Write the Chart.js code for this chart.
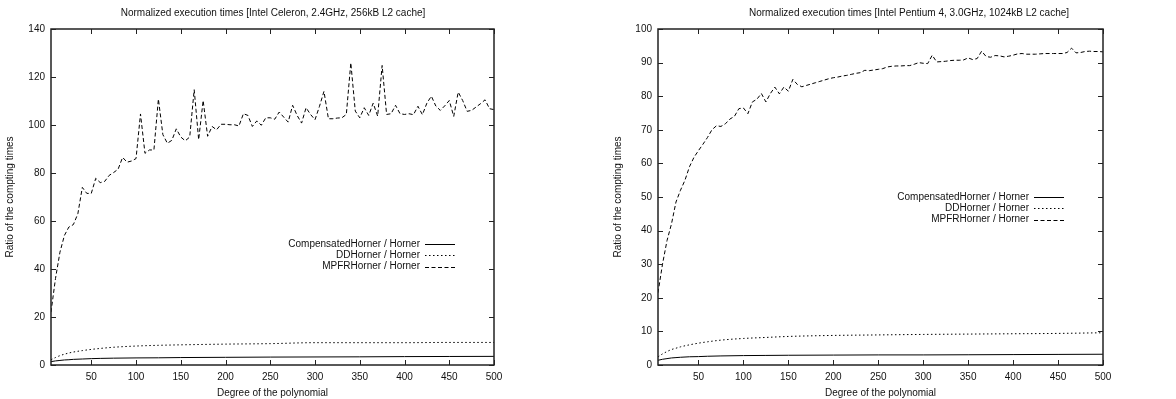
<!DOCTYPE html>
<html>
<head>
<meta charset="utf-8">
<script src="https://cdn.jsdelivr.net/npm/chart.js@4.4.1/dist/chart.umd.min.js"></script>
<style>
  html, body { margin: 0; padding: 0; background: #fff; }
  .panel { position: absolute; top: 0; width: 588px; height: 399px; }
</style>
</head>
<body>
<div class="panel" style="left:0"><canvas id="celeronChart" width="588" height="399"></canvas></div>
<div class="panel" style="left:588px"><canvas id="pentiumChart" width="588" height="399"></canvas></div>
<script>
// --- Data ---
const degrees = [5, 10, 15, 20, 25, 30, 35, 40, 45, 50, 55, 60, 65, 70, 75, 80, 85, 90, 95, 100,
  105, 110, 115, 120, 125, 130, 135, 140, 145, 150, 155, 160, 165, 170, 175, 180, 185, 190, 195, 200,
  205, 210, 215, 220, 225, 230, 235, 240, 245, 250, 255, 260, 265, 270, 275, 280, 285, 290, 295, 300,
  305, 310, 315, 320, 325, 330, 335, 340, 345, 350, 355, 360, 365, 370, 375, 380, 385, 390, 395, 400,
  405, 410, 415, 420, 425, 430, 435, 440, 445, 450, 455, 460, 465, 470, 475, 480, 485, 490, 495, 500];

const smoothDegrees = [5, 10, 15, 20, 25, 30, 40, 50, 60, 75, 100, 125, 150, 200, 250, 300, 350, 400, 450, 500];

// Intel Celeron 2.4GHz
const celeronMpfr = [22, 36, 47, 54, 57.5, 58.5, 63, 74, 71.5, 71.5, 77.8, 76, 76.5, 79, 80.2, 81.6, 86.5, 84.5, 85, 86,
  104.6, 88.2, 89.6, 89.6, 110.8, 96, 92.4, 93.6, 98.4, 95, 93.4, 95, 114.7, 93.9, 110.2, 95.3, 99.4, 98, 100.3, 100.3,
  100.1, 100.1, 99.6, 104.7, 104, 99.4, 101.7, 99.9, 103, 103, 102.4, 105.4, 103.3, 101.2, 108.2, 104, 100.8, 107.2, 104.4, 102.2,
  107.8, 114, 102.6, 102.6, 102.9, 103, 104.4, 125.9, 105.8, 103, 107.2, 104, 109.1, 103.7, 124.8, 104.4, 104.7, 108.2, 104.7, 104.4,
  104.7, 104.3, 107.8, 104.3, 109.1, 112, 107.9, 106.1, 108, 110.2, 103.6, 113.7, 110.2, 105.7, 106.1, 107.5, 108.9, 110.5, 106.8, 106.4];
const celeronDD = [2.2, 3.1, 3.9, 4.5, 5.0, 5.4, 6.0, 6.5, 6.9, 7.4, 7.9, 8.2, 8.4, 8.7, 8.9, 9.3, 9.3, 9.3, 9.4, 9.4];
const celeronComp = [1.4, 1.7, 1.9, 2.1, 2.2, 2.35, 2.5, 2.65, 2.75, 2.85, 2.95, 3.0, 3.1, 3.2, 3.3, 3.35, 3.4, 3.5, 3.55, 3.6];

// Intel Pentium 4 3.0GHz
const pentiumMpfr = [21.5, 30, 37, 42, 48.5, 52, 55, 59, 61.8, 63.8, 65.7, 67.7, 70, 71.2, 71, 71.8, 73.2, 74, 76.3, 76.5,
  74.8, 78.3, 79.1, 80.8, 78.3, 80.8, 82.7, 80.7, 82.7, 81.5, 85, 83.5, 82.8, 83.2, 83.6, 84, 84.4, 84.8, 85.2, 85.5,
  85.7, 86, 86.2, 86.5, 86.8, 87, 87.7, 87.6, 87.8, 88, 88.2, 88.7, 88.9, 89, 89, 89.1, 89.1, 89.5, 90, 89.8,
  89.7, 92.2, 90.2, 90.3, 90.4, 90.6, 90.7, 90.7, 90.8, 91.4, 90.9, 91.2, 93.4, 91.8, 91.6, 92.1, 92, 91.7, 91.9, 92.2,
  92.6, 92.7, 92.5, 92.5, 92.5, 92.6, 92.7, 92.7, 92.7, 92.7, 92.7, 93, 94.3, 92.9, 93, 93.3, 93.4, 93.3, 93.3, 93.2];
const pentiumDD = [2.4, 3.3, 4.0, 4.6, 5.0, 5.4, 6.0, 6.5, 6.9, 7.4, 7.9, 8.2, 8.5, 8.8, 8.95, 9.1, 9.2, 9.3, 9.4, 9.6];
const pentiumComp = [1.4, 1.7, 1.9, 2.1, 2.2, 2.3, 2.45, 2.5, 2.6, 2.7, 2.8, 2.85, 2.9, 2.95, 3.0, 3.0, 3.05, 3.1, 3.15, 3.2];

const xTicks = [50, 100, 150, 200, 250, 300, 350, 400, 450, 500];
const celeronYTicks = [0, 20, 40, 60, 80, 100, 120, 140];
const pentiumYTicks = [0, 10, 20, 30, 40, 50, 60, 70, 80, 90, 100];

const seriesLabels = ['CompensatedHorner / Horner', 'DDHorner / Horner', 'MPFRHorner / Horner'];

const FONT = "'Liberation Sans', Arial, sans-serif";
const INK = '#111';

const toPoints = (xs, ys) => xs.map((x, i) => ({ x: x, y: ys[i] }));

// gnuplot look: full border, inward (mirrored) ticks, key inside the plot, title
const gnuplotFrame = {
  id: 'gnuplotFrame',
  afterDraw(chart, args, opts) {
    const { ctx, chartArea: a, scales } = chart;
    ctx.save();
    ctx.strokeStyle = '#222';
    ctx.lineWidth = 1.5;
    ctx.setLineDash([]);
    ctx.strokeRect(a.left, a.top, a.right - a.left, a.bottom - a.top);

    ctx.lineWidth = 1;
    ctx.beginPath();
    scales.x.ticks.forEach(t => {
      const px = Math.round(scales.x.getPixelForValue(t.value)) + 0.5;
      ctx.moveTo(px, a.bottom); ctx.lineTo(px, a.bottom - 5);
      ctx.moveTo(px, a.top); ctx.lineTo(px, a.top + 5);
    });
    scales.y.ticks.forEach(t => {
      const py = Math.round(scales.y.getPixelForValue(t.value)) + 0.5;
      ctx.moveTo(a.left, py); ctx.lineTo(a.left + 5, py);
      ctx.moveTo(a.right, py); ctx.lineTo(a.right - 5, py);
    });
    ctx.stroke();

    // title
    ctx.fillStyle = INK;
    ctx.font = '10px ' + FONT;
    ctx.textAlign = 'center';
    ctx.textBaseline = 'middle';
    ctx.fillText(opts.title, opts.titleX, 13);

    // key
    ctx.textAlign = 'right';
    chart.data.datasets.forEach((ds, i) => {
      const y = opts.keyY + i * 11.3;
      ctx.fillText(ds.label, a.right - 74, y);
      ctx.beginPath();
      ctx.strokeStyle = '#000';
      ctx.lineWidth = 1;
      ctx.setLineDash(ds.borderDash || []);
      ctx.moveTo(a.right - 69, Math.round(y) + 0.5);
      ctx.lineTo(a.right - 39, Math.round(y) + 0.5);
      ctx.stroke();
    });
    ctx.restore();
  }
};

function makeChart(id, cfg) {
  return new Chart(document.getElementById(id), {
    type: 'line',
    data: {
      datasets: [
        { label: seriesLabels[0], data: toPoints(smoothDegrees, cfg.comp), borderColor: '#000', borderWidth: 1,
          pointRadius: 0, cubicInterpolationMode: 'monotone' },
        { label: seriesLabels[1], data: toPoints(smoothDegrees, cfg.dd), borderColor: '#000', borderWidth: 1,
          borderDash: [1.5, 2.5], pointRadius: 0, cubicInterpolationMode: 'monotone' },
        { label: seriesLabels[2], data: toPoints(degrees, cfg.mpfr), borderColor: '#000', borderWidth: 1,
          borderDash: [4, 2.5], pointRadius: 0, tension: 0 }
      ]
    },
    options: {
      responsive: false,
      animation: false,
      layout: { padding: { left: cfg.padLeft, right: cfg.padRight, top: 29, bottom: 0 } },
      plugins: {
        legend: { display: false },
        tooltip: { enabled: false },
        gnuplotFrame: { title: cfg.title, titleX: cfg.titleX, keyY: cfg.keyY }
      },
      scales: {
        x: {
          type: 'linear',
          min: 5,
          max: 500,
          afterBuildTicks: axis => { axis.ticks = xTicks.map(v => ({ value: v })); },
          afterFit: axis => { axis.height = 34; },
          grid: { display: false, drawTicks: false },
          border: { display: false },
          ticks: { color: INK, font: { family: FONT, size: 10 }, padding: 6, maxRotation: 0, autoSkip: false },
          title: { display: true, text: 'Degree of the polynomial', color: INK,
                   font: { family: FONT, size: 10 }, padding: { top: 0, bottom: 0 } }
        },
        y: {
          min: 0,
          max: cfg.yMax,
          afterBuildTicks: axis => { axis.ticks = cfg.yTicks.map(v => ({ value: v })); },
          afterFit: axis => { axis.width = cfg.yWidth; },
          grid: { display: false, drawTicks: false },
          border: { display: false },
          ticks: { color: INK, font: { family: FONT, size: 10 }, padding: 6 },
          title: { display: true, text: 'Ratio of the compting times', color: INK,
                   font: { family: FONT, size: 10 }, padding: { top: 4, bottom: 0 } }
        }
      }
    },
    plugins: [gnuplotFrame]
  });
}

makeChart('celeronChart', {
  title: 'Normalized execution times [Intel Celeron, 2.4GHz, 256kB L2 cache]',
  titleX: 273, keyY: 244,
  mpfr: celeronMpfr, dd: celeronDD, comp: celeronComp,
  yMax: 140, yTicks: celeronYTicks,
  padLeft: 0, padRight: 94, yWidth: 51
});

makeChart('pentiumChart', {
  title: 'Normalized execution times [Intel Pentium 4, 3.0GHz, 1024kB L2 cache]',
  titleX: 321, keyY: 197,
  mpfr: pentiumMpfr, dd: pentiumDD, comp: pentiumComp,
  yMax: 100, yTicks: pentiumYTicks,
  padLeft: 20, padRight: 73, yWidth: 50
});
</script>
</body>
</html>
